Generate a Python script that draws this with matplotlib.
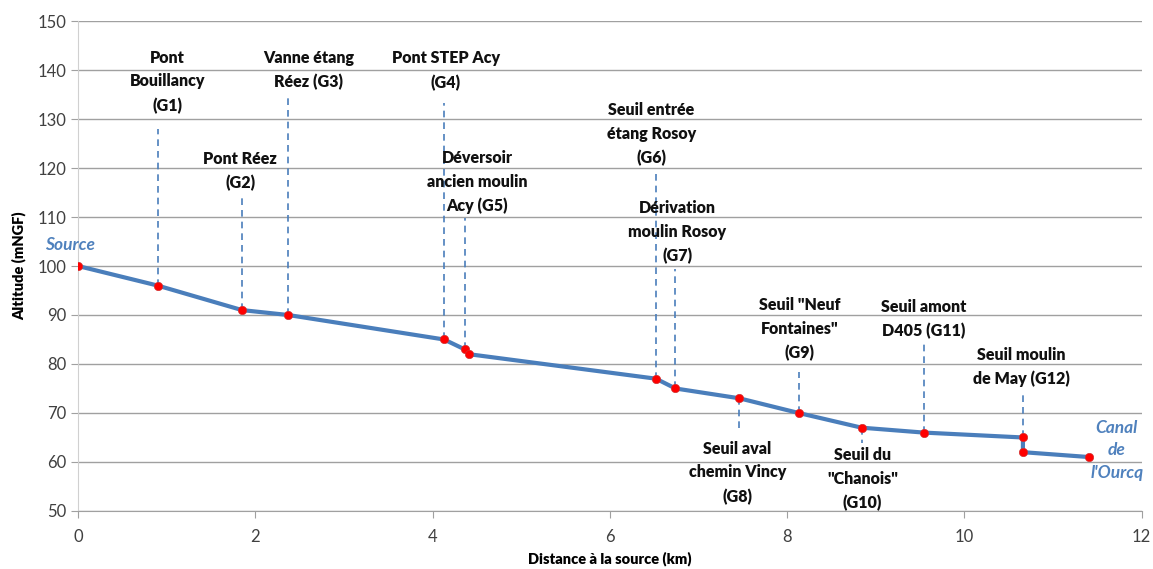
import matplotlib
matplotlib.use("Agg")
import matplotlib.pyplot as plt

plt.rcParams['font.family'] = ['Lato', 'DejaVu Sans']

# Profile points (distance km, altitude mNGF)
dist = [0.0, 0.90, 1.85, 2.37, 4.13, 4.36, 4.41, 6.52, 6.74, 7.46, 8.13, 8.84, 9.54, 10.66, 10.66, 11.41]
alt = [100.0, 96.0, 91.0, 90.0, 85.0, 83.0, 82.0, 77.0, 75.0, 73.0, 70.0, 67.0, 66.0, 65.0, 62.0, 61.0]

# Annotated structures
labels = ["Pont\nBouillancy\n(G1)", "Pont Réez\n(G2)", "Vanne étang\nRéez (G3)",
          "Pont STEP Acy\n(G4)", "Déversoir\nancien moulin\nAcy (G5)",
          "Seuil entrée\nétang Rosoy\n(G6)", "Dérivation\nmoulin Rosoy\n(G7)",
          "Seuil aval\nchemin Vincy\n(G8)", "Seuil \"Neuf\nFontaines\"\n(G9)",
          "Seuil du\n\"Chanois\"\n(G10)", "Seuil amont\nD405 (G11)",
          "Seuil moulin\nde May (G12)"]
label_x = [1.01, 1.83, 2.60, 4.15, 4.50, 6.47, 6.76, 7.44, 8.14, 8.85, 9.54, 10.64]
label_y = [137.6, 119.4, 140.0, 139.9, 117.1, 126.9, 106.9, 57.8, 87.1, 56.5, 89.2, 79.4]
# dashed leader lines: x, start altitude (point), end altitude (label side)
lead_x = [0.90, 1.85, 2.37, 4.13, 4.36, 6.52, 6.74, 7.46, 8.13, 8.84, 9.54, 10.66]
lead_from = [96, 91, 90, 85, 83, 77, 75, 73, 70, 67, 66, 65]
lead_to = [128.0, 114.6, 134.3, 133.3, 109.9, 119.2, 99.3, 65.9, 78.4, 63.9, 84.4, 74.1]

xticks = [0, 2, 4, 6, 8, 10, 12]
yticks = [50, 60, 70, 80, 90, 100, 110, 120, 130, 140, 150]

blue = '#4a7ebb'
fig = plt.figure(figsize=(11.53, 5.69), dpi=100)
ax = fig.add_axes([0.0677, 0.102, 0.9225, 0.861])
ax.set_xlim(0, 12)
ax.set_ylim(50, 150)
ax.set_xticks(xticks)
ax.set_yticks(yticks)
ax.yaxis.grid(True, color='#a0a0a0', linewidth=1.0)
ax.set_axisbelow(True)
for s in ['top', 'right']:
    ax.spines[s].set_visible(False)
ax.spines['left'].set_color('#d0d0d0')
ax.spines['bottom'].set_color('#a0a0a0')
ax.tick_params(axis='both', colors='#a0a0a0', labelcolor='#404040', labelsize=12, length=5)
ax.tick_params(axis='x', pad=8)

for x, y0, y1 in zip(lead_x, lead_from, lead_to):
    ax.plot([x, x], [y0, y1], color=blue, linestyle=(0, (4, 3)), linewidth=1.2, zorder=2)

ax.plot(dist, alt, color=blue, linewidth=3, zorder=3)
ax.plot(dist, alt, linestyle='none', marker='o', markersize=6, markerfacecolor='red',
        markeredgecolor='#d03030', markeredgewidth=0.5, zorder=4)

for t, x, y in zip(labels, label_x, label_y):
    ax.text(x, y, t, ha='center', va='center', fontsize=11.5, fontweight='heavy',
            color='#111111', linespacing=1.6, zorder=5)

ax.text(-0.09, 104.3, "Source", ha='center', va='center', fontsize=12.5, style='italic',
        color='#4f81bd', fontweight='bold', zorder=5)
ax.text(11.72, 62.4, "Canal\nde\nl'Ourcq", ha='center', va='center', fontsize=12.5,
        style='italic', color='#4f81bd', fontweight='bold', linespacing=1.5, zorder=5,
        clip_on=False)

ax.set_xlabel("Distance à la source (km)", fontsize=10.5, fontweight='heavy', va='center')
ax.xaxis.set_label_coords(0.5, -0.097)
ax.set_ylabel("Altitude (mNGF)", fontsize=10.5, fontweight='heavy', labelpad=8)

fig.savefig("out.png", dpi=100)
